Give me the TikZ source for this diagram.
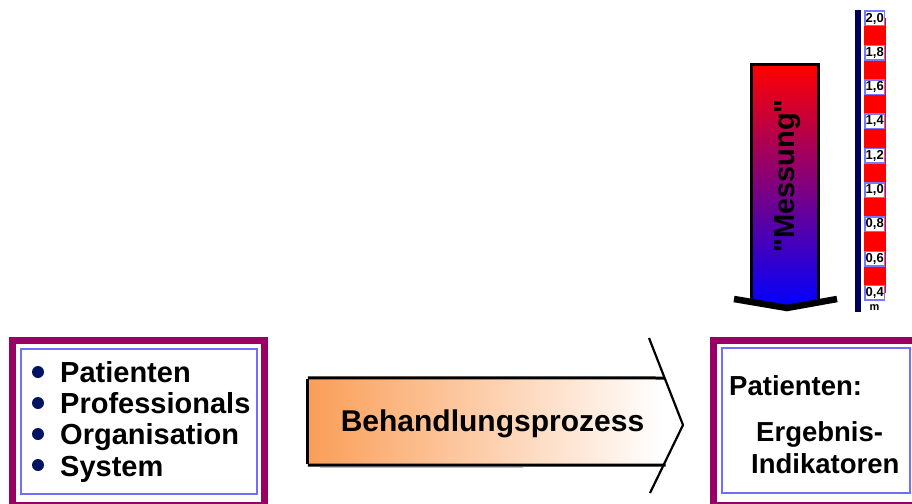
\documentclass[tikz,border=0pt]{standalone}
\usepackage{fontspec}
\setmainfont{Liberation Sans}[Ligatures=TeXOff]
\definecolor{framepurple}{RGB}{153,0,102}
\definecolor{frameblue}{RGB}{110,110,255}
\definecolor{bulletnavy}{RGB}{0,20,100}
\definecolor{barnavy}{RGB}{0,0,90}
\definecolor{scaleblue}{RGB}{120,120,255}
\definecolor{procorange}{RGB}{250,158,88}
\definecolor{faintblue}{RGB}{185,185,240}
\begin{document}
\begin{tikzpicture}[x=1pt,y=-1pt,
  purpleframe/.style={draw=framepurple, line width=7pt, inner sep=0pt},
  blueframe/.style={draw=frameblue, line width=2pt, inner sep=0pt},
  bigtext/.style={font=\fontsize{29}{32}\selectfont\bfseries, inner sep=0pt},
  righttext/.style={font=\fontsize{27.5}{32}\selectfont\bfseries, inner sep=0pt, anchor=base west},
  bulletdot/.style={circle, fill=bulletnavy, minimum size=12pt, inner sep=0pt},
  scalelabel/.style={draw=scaleblue, line width=1.5pt, fill=white, minimum width=19.5pt, minimum height=14.5pt, inner sep=0pt, font=\fontsize{13}{13}\selectfont\bfseries},
  blackline/.style={draw=black, line width=3pt},
]
\useasboundingbox (0,0) rectangle (912,503);

% ---------- left box ----------
\node[purpleframe, minimum width=252pt, minimum height=164.5pt] (leftouter) at (138.5,422.75) {};
\node[blueframe, minimum width=236pt, minimum height=145pt] (leftinner) at (139,421.5) {};
\node[bulletdot] (b1) at (38,372) {};
\node[bulletdot] (b2) at (38,403) {};
\node[bulletdot] (b3) at (38,434) {};
\node[bulletdot] (b4) at (38,465) {};
\node[bigtext, anchor=base west] (t1) at (60,382) {Patienten};
\node[bigtext, anchor=base west] (t2) at (60,413) {Professionals};
\node[bigtext, anchor=base west] (t3) at (60,444) {Organisation};
\node[bigtext, anchor=base west] (t4) at (60,476) {System};

% ---------- process arrow ----------
\node[minimum width=355pt, minimum height=87pt, inner sep=0pt, left color=procorange, right color=white] (proc) at (485.5,421.5) {};
\draw[faintblue, line width=1pt] (320,467) -- (523,467);
\coordinate (chtop) at (649,338);
\coordinate (chtip) at (683,425);
\coordinate (chbot) at (650,493);
\coordinate (ptopend) at (664.6,378);
\coordinate (pbotend) at (665.5,465);
\draw[blackline] (proc.north west) -- (ptopend);
\draw[blackline] (proc.south west) -- (pbotend);
\draw[blackline] ([yshift=-1.5pt]proc.north west) -- ([yshift=1.5pt]proc.south west);
\draw[black, line width=2.2pt] (chtop) -- (chtip) -- (chbot);
\node[bigtext, font=\fontsize{30}{32}\selectfont\bfseries] (proctext) at (492.5,424) {Behandlungsprozess};

% ---------- right box ----------
\node[purpleframe, minimum width=204.5pt, minimum height=164.5pt] (rightouter) at (815.75,422.75) {};
\node[blueframe, minimum width=188pt, minimum height=145pt] (rightinner) at (816,420.5) {};
\node[righttext] (r1) at (729,395) {Patienten:};
\node[righttext] (r2) at (756,441) {Ergebnis-};
\node[righttext] (r3) at (751,473) {Indikatoren};

% ---------- measurement arrow ----------
\coordinate (mtl) at (751.5,64.5);
\coordinate (mtr) at (818.5,64.5);
\coordinate (mbl) at (751.5,299);
\coordinate (mbr) at (818.5,299);
\coordinate (mtip) at (787,308);
\coordinate (mcl) at (734,299);
\coordinate (mcr) at (837,299);
\shade[top color=red, bottom color=blue] (mtl) -- (mtr) -- (mbr) -- (mtip) -- (mbl) -- cycle;
\draw[blackline] (mbl) -- (mtl) -- (mtr) -- (mbr);
\draw[black, line width=6.5pt] (mcl) -- (mtip) -- (mcr);
\node[bigtext, rotate=90] (mess) at (788,176) {"Messung"};

% ---------- scale ----------
\fill[barnavy] (855,10) rectangle (861,312);
\fill[red] (864,18) rectangle (885.5,293);
\node[scalelabel] (l20) at (874.75,18.5) {2,0};
\node[scalelabel] (l18) at (874.75,52.8) {1,8};
\node[scalelabel] (l16) at (874.75,87.1) {1,6};
\node[scalelabel] (l14) at (874.75,121.4) {1,4};
\node[scalelabel] (l12) at (874.75,155.7) {1,2};
\node[scalelabel] (l10) at (874.75,190.0) {1,0};
\node[scalelabel] (l08) at (874.75,224.3) {0,8};
\node[scalelabel] (l06) at (874.75,258.6) {0,6};
\node[scalelabel] (l04) at (874.75,292.9) {0,4};
\node[font=\fontsize{11}{11}\selectfont\bfseries, inner sep=0pt] (unit) at (874.5,307.5) {m};
\end{tikzpicture}
\end{document}
